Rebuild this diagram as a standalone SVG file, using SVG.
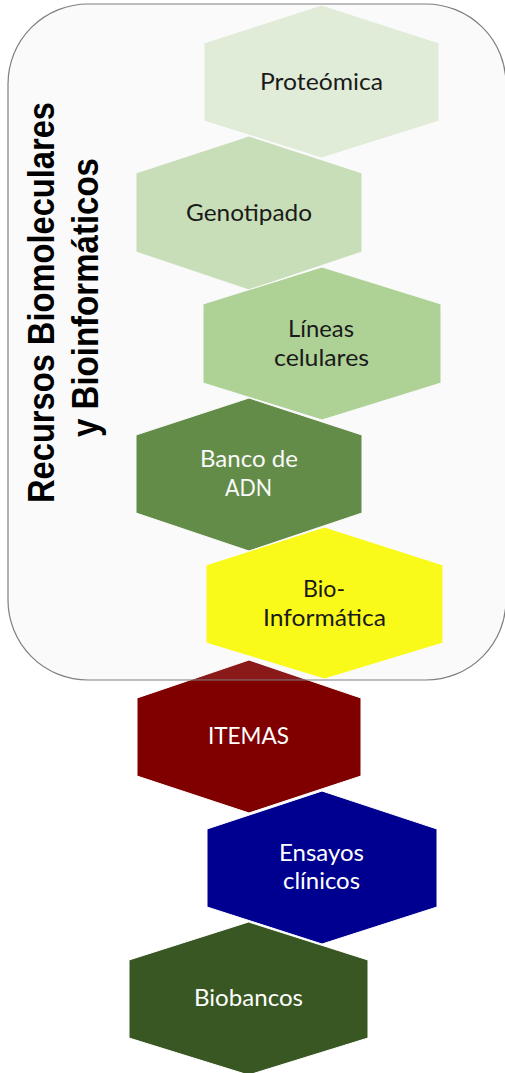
<svg xmlns="http://www.w3.org/2000/svg" width="505" height="1073" viewBox="0 0 505 1073">
  <style>
    .hex { stroke: #ffffff; stroke-width: 1; }
    .lbl { font-family: Lato, "Open Sans", "Liberation Sans", sans-serif; font-size: 22.5px; text-anchor: middle; }
    .dark { fill: #000000; }
    .light { fill: #ffffff; }
    .title { font-family: "Liberation Sans", Arial, sans-serif; font-weight: bold; font-size: 36px; text-anchor: middle; fill: #000000; }
  </style>
  <rect x="0" y="0" width="505" height="1073" fill="#ffffff"/>
  <g id="connectors"/>
  <g id="node-proteomica">
    <polygon class="hex" fill="#E2F0D9" points="321.5,5 439,43 439,121 321.5,158 204,121 204,43"/>
    <text class="lbl dark" x="321.5" y="90" textLength="123" lengthAdjust="spacingAndGlyphs">Proteómica</text>
  </g>
  <g id="node-genotipado">
    <polygon class="hex" fill="#C5E0B4" points="249,136 362,173 362,252 249,290 136,252 136,173"/>
    <text class="lbl dark" x="249" y="221" textLength="126" lengthAdjust="spacingAndGlyphs">Genotipado</text>
  </g>
  <g id="node-lineas">
    <polygon class="hex" fill="#A9D18E" points="322,267 441,304 441,383 322,420 203,383 203,304"/>
    <text class="lbl dark" x="321" y="337" textLength="66" lengthAdjust="spacingAndGlyphs">Líneas</text>
    <text class="lbl dark" x="321.5" y="366" textLength="95" lengthAdjust="spacingAndGlyphs">celulares</text>
  </g>
  <g id="node-banco-adn">
    <polygon class="hex" fill="#548235" points="249,398 362,435 362,513 249,551 136,513 136,435"/>
    <text class="lbl light" x="249" y="467" textLength="98" lengthAdjust="spacingAndGlyphs">Banco de</text>
    <text class="lbl light" x="248.5" y="496" textLength="47" lengthAdjust="spacingAndGlyphs">ADN</text>
  </g>
  <g id="node-bioinformatica">
    <polygon class="hex" fill="#FFFF00" points="324.5,527 443,565 443,643 324.5,679 206,643 206,565"/>
    <text class="lbl dark" x="324" y="597" textLength="42" lengthAdjust="spacingAndGlyphs">Bio-</text>
    <text class="lbl dark" x="324.5" y="626" textLength="123" lengthAdjust="spacingAndGlyphs">Informática</text>
  </g>
  <g id="node-itemas">
    <polygon class="hex" fill="#800000" points="249,660 361,698 361,776 249,813 137,776 137,698"/>
    <text class="lbl light" x="248.5" y="744" textLength="81" lengthAdjust="spacingAndGlyphs">ITEMAS</text>
  </g>
  <g id="node-ensayos">
    <polygon class="hex" fill="#000090" points="322,791 437,829 437,907 322,944 207,907 207,829"/>
    <text class="lbl light" x="321.5" y="861" textLength="85" lengthAdjust="spacingAndGlyphs">Ensayos</text>
    <text class="lbl light" x="321.5" y="889" textLength="77" lengthAdjust="spacingAndGlyphs">clínicos</text>
  </g>
  <g id="node-biobancos">
    <polygon class="hex" fill="#385723" points="248.5,922 368,960 368,1038 248.5,1075 129,1038 129,960"/>
    <text class="lbl light" x="248.5" y="1006" textLength="109" lengthAdjust="spacingAndGlyphs">Biobancos</text>
  </g>
  <g id="node-recursos">
    <rect x="8" y="4" width="498" height="676" rx="80" ry="80" fill="#d9d9d9" fill-opacity="0.12" stroke="#7f7f7f" stroke-width="1.2"/>
    <text class="title" transform="translate(54,302.5) rotate(-90)" x="0" y="0" textLength="401" lengthAdjust="spacingAndGlyphs">Recursos Biomoleculares</text>
    <text class="title" transform="translate(98,297.5) rotate(-90)" x="0" y="0" textLength="279" lengthAdjust="spacingAndGlyphs">y Bioinformáticos</text>
  </g>
</svg>
